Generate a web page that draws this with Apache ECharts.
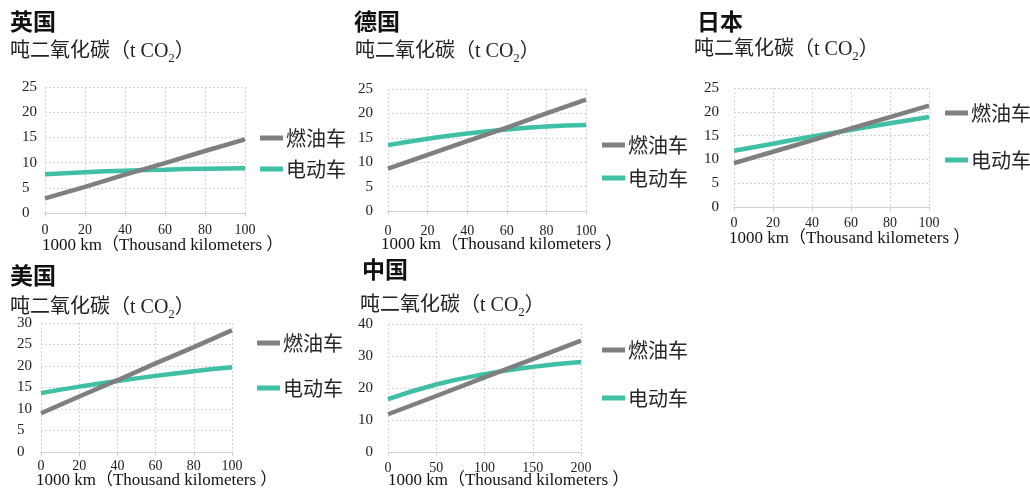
<!DOCTYPE html>
<html><head><meta charset="utf-8">
<script src="https://cdn.jsdelivr.net/npm/echarts@6/dist/echarts.min.js"></script>
<style>html,body{margin:0;padding:0;background:#fff}#c{width:1030px;height:493px}</style>
</head><body><div id="c"></div>
<script>
// ---- data ----
const seriesNames = ['燃油车', '电动车'];
const countries = ['英国', '德国', '日本', '美国', '中国'];
const km100 = [0, 20, 40, 60, 80, 100];
const kmCN = [0, 50, 100, 150, 200];
const ukGas = [2.9, 5.2, 7.6, 9.9, 12.3, 14.6];
const ukEV = [7.7, 8.1, 8.4, 8.6, 8.8, 8.9];
const deGas = [8.7, 11.5, 14.3, 17.1, 20.0, 22.8];
const deEV = [13.5, 14.8, 15.9, 16.7, 17.3, 17.6];
const jpGas = [9.2, 11.6, 14.0, 16.5, 18.9, 21.3];
const jpEV = [11.8, 13.3, 14.8, 16.2, 17.6, 18.9];
const usGas = [9.0, 12.9, 16.7, 20.6, 24.4, 28.3];
const usEV = [13.7, 15.2, 16.5, 17.7, 18.8, 19.7];
const cnGas = [11.8, 17.5, 23.3, 29.0, 34.8];
const cnEV = [16.5, 21.1, 24.3, 26.6, 28.1];
const yMax = [25, 25, 25, 30, 40];
const yStep = [5, 5, 5, 5, 10];
const xMax = [100, 100, 100, 100, 200];
const xStep = [20, 20, 20, 20, 50];
const yAxisTitle = ['吨二氧化碳（t CO', '2', '）'];
const xAxisTitle = '1000 km（Thousand kilometers ）';

// ---- layout ----
const xs = [km100, km100, km100, km100, kmCN];
const gas = [ukGas, deGas, jpGas, usGas, cnGas];
const ev = [ukEV, deEV, jpEV, usEV, cnEV];
const panels = [
  {grid: {left: 45, top: 87, width: 200, height: 126}, yAlign: 'left', yMargin: 23, yPad: [0, 0, 0, 0], xMargin: 10,
   lg: {left: 255, top: 122, gap: 9}, title: [10, 22], sub: [10, 51], xn: [42, 246]},
  {grid: {left: 388, top: 89, width: 198, height: 122}, yAlign: 'right', yMargin: 15, yPad: [0, 0, 12, 0], xMargin: 13,
   lg: {left: 597, top: 129, gap: 11}, title: [354, 22], sub: [355, 51], xn: [381, 245]},
  {grid: {left: 734, top: 88, width: 195, height: 119}, yAlign: 'right', yMargin: 15, yPad: [0, 0, 0, 0], xMargin: 9,
   lg: {left: 940, top: 97, gap: 25}, title: [697, 22], sub: [694, 49], xn: [729, 239]},
  {grid: {left: 41, top: 323, width: 191, height: 129}, yAlign: 'left', yMargin: 24, yPad: [10, 0, 0, 0], xMargin: 7,
   lg: {left: 252, top: 327, gap: 23}, title: [10, 276], sub: [10, 307], xn: [36, 481]},
  {grid: {left: 388, top: 324, width: 193, height: 128}, yAlign: 'right', yMargin: 15, yPad: [0, 0, 0, 0], xMargin: 9,
   lg: {left: 597, top: 334, gap: 26}, title: [362, 270], sub: [360, 305], xn: [388, 481]}
];

const SERIF = '"Liberation Serif", "Noto Sans CJK SC", serif';
const CJK = '"Noto Sans CJK SC", sans-serif';
const GRAY = '#7f7f7f';
const TEAL = '#3fbfa6';
const gridLine = {show: true, lineStyle: {color: '#d4d4d4', type: [2, 2], width: 1}};

const option = {
  animation: false,
  backgroundColor: '#fff',
  grid: [], xAxis: [], yAxis: [], series: [], legend: [], graphic: []
};

panels.forEach((p, i) => {
  option.grid.push(Object.assign({containLabel: false}, p.grid));
  option.xAxis.push({
    type: 'value', gridIndex: i, min: 0, max: xMax[i], interval: xStep[i],
    axisLine: {show: true, lineStyle: {color: '#d0d0d0', width: 1}},
    axisTick: {show: true, length: 4, lineStyle: {color: '#d0d0d0'}},
    axisLabel: {margin: p.xMargin, color: '#222', fontFamily: SERIF, fontSize: 14},
    splitLine: gridLine
  });
  option.yAxis.push({
    type: 'value', gridIndex: i, min: 0, max: yMax[i], interval: yStep[i],
    axisLine: {show: false}, axisTick: {show: false},
    axisLabel: {margin: p.yMargin, align: p.yAlign, padding: p.yPad, color: '#222', fontFamily: SERIF, fontSize: 15},
    splitLine: gridLine
  });
  option.series.push({
    name: seriesNames[0], type: 'line', xAxisIndex: i, yAxisIndex: i,
    data: xs[i].map((x, k) => [x, gas[i][k]]),
    showSymbol: false, symbol: 'none', color: GRAY,
    lineStyle: {color: GRAY, width: 4.5}, z: 3
  });
  option.series.push({
    name: seriesNames[1], type: 'line', xAxisIndex: i, yAxisIndex: i, smooth: true,
    data: xs[i].map((x, k) => [x, ev[i][k]]),
    showSymbol: false, symbol: 'none', color: TEAL,
    lineStyle: {color: TEAL, width: 4.5}, z: 2
  });
  option.legend.push({
    orient: 'vertical', left: p.lg.left, top: p.lg.top, itemGap: p.lg.gap,
    icon: 'rect', itemWidth: 23, itemHeight: 5,
    data: seriesNames, selectedMode: false,
    textStyle: {fontFamily: CJK, fontSize: 20, color: '#262626', lineHeight: 22, padding: [0, 0, 0, -2]}
  });
  option.graphic.push({
    type: 'text', left: p.title[0], top: p.title[1] - 12, silent: true,
    style: {text: countries[i], font: 'bold 23px ' + CJK, fill: '#111'}
  });
  option.graphic.push({
    type: 'text', left: p.sub[0], top: p.sub[1] - 9, silent: true,
    style: {
      text: '{a|' + yAxisTitle[0] + '}{s|' + yAxisTitle[1] + '}{a|' + yAxisTitle[2] + '}',
      rich: {
        a: {fontFamily: SERIF, fontSize: 20, lineHeight: 26, fill: '#222', color: '#222'},
        s: {fontFamily: SERIF, fontSize: 13, lineHeight: 13, verticalAlign: 'bottom', fill: '#222', color: '#222'}
      }
    }
  });
  option.graphic.push({
    type: 'text', left: p.xn[0], top: p.xn[1] - 9, silent: true,
    style: {text: xAxisTitle, font: '17px ' + SERIF, fill: '#111'}
  });
});

const chart = echarts.init(document.getElementById('c'), null, {renderer: 'canvas'});
chart.setOption(option);
</script></body></html>
